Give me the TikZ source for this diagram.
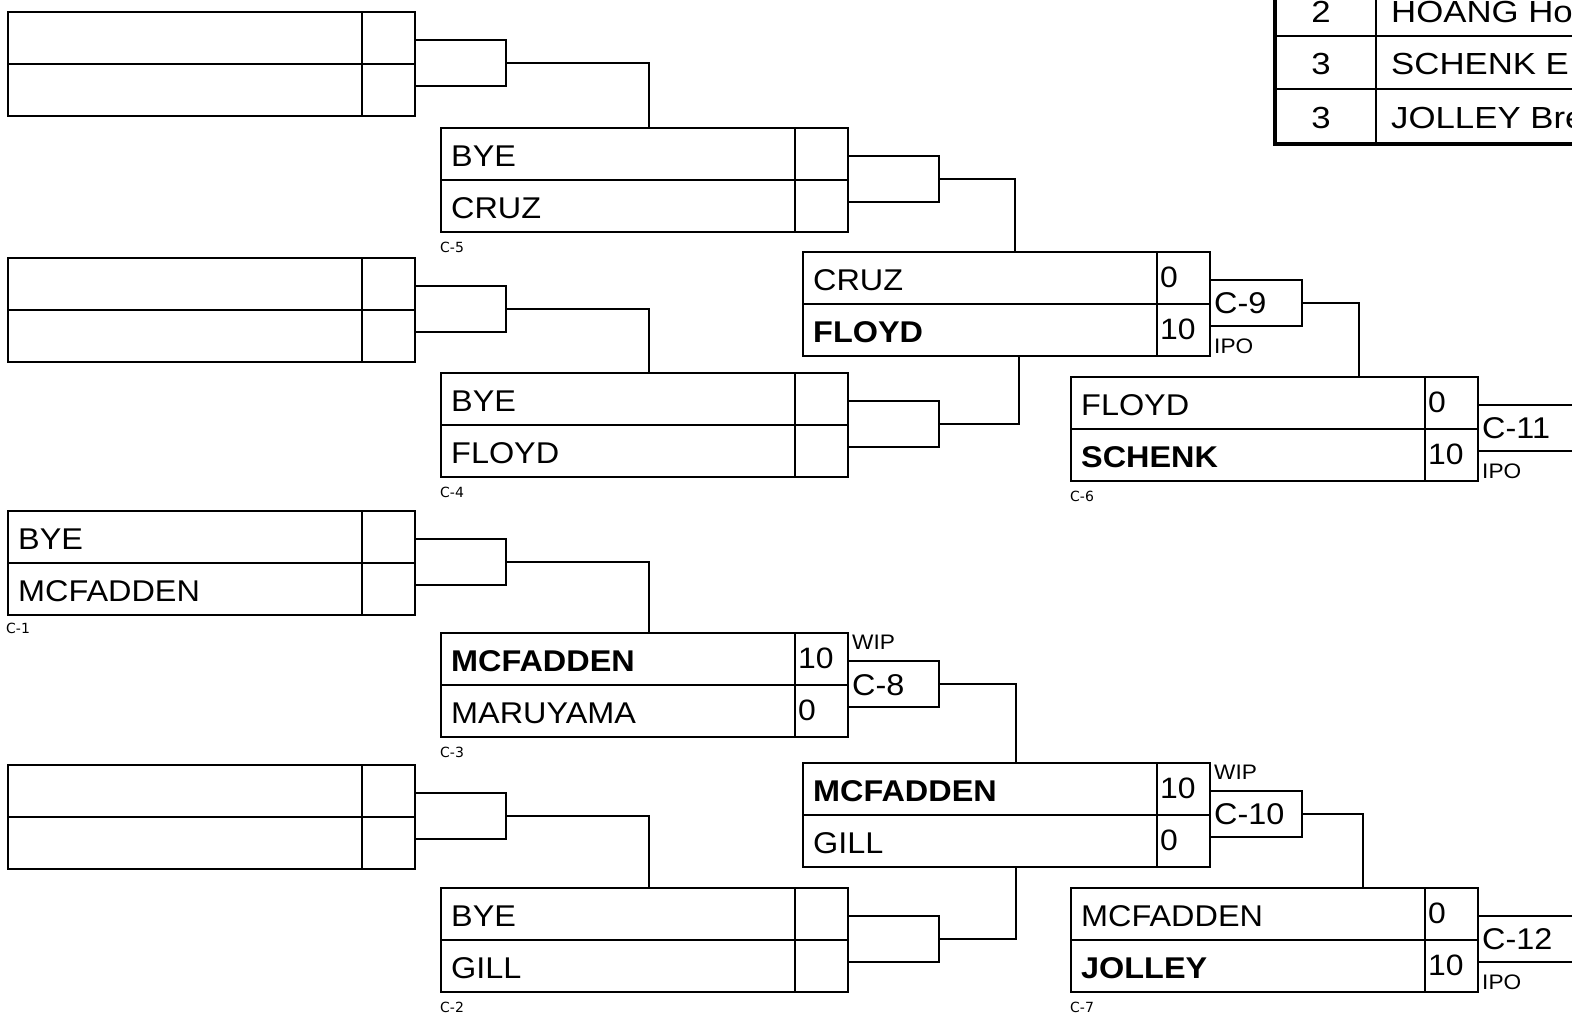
\documentclass[tikz,border=0pt]{standalone}
\usepackage{fontspec}
\setmainfont[FakeStretch=1.08]{Liberation Sans}
\newfontfamily\tabfont[FakeStretch=1.14]{Liberation Sans}
\newfontfamily\dejavu{DejaVu Sans}
\newcommand\bmatch[8]{%
 \node[matchbox] (#1) at (#2,#3) {};
 \draw[boxline] (#2,#3+52) -- (#2+407,#3+52);
 \draw[boxline] (#2+354,#3) -- (#2+354,#3+104);
 \node[nm] (#1-t) at (#2+10,#3+38) {#4};
 \node[nm] (#1-b) at (#2+10,#3+90) {#5};
 \node[sc] (#1-st) at (#2+357,#3+35) {#6};
 \node[sc] (#1-sb) at (#2+357,#3+87) {#7};
 \node[cbox,minimum width=#8pt] (#1-c) at (#2+407,#3+28) {};
}
\begin{document}
\begin{tikzpicture}[x=1pt,y=-1pt,
 matchbox/.style={draw,line width=1.6pt,minimum width=407pt,minimum height=104pt,inner sep=0pt,outer sep=0pt,anchor=north west},
 cbox/.style={draw,line width=1.5pt,minimum height=46pt,inner sep=0pt,outer sep=0pt,anchor=north west},
 boxline/.style={line width=1.6pt},
 conn/.style={line width=1.4pt},
 nm/.style={inner sep=0pt,anchor=base west,font=\fontsize{30}{36}\selectfont},
 sc/.style={inner sep=0pt,anchor=base west,font=\fontsize{29.5}{36}\selectfont},
 tb/.style={inner sep=0pt,font=\tabfont\fontsize{30.5}{38}\selectfont},
 sm/.style={inner sep=0pt,anchor=base west,font=\fontsize{21}{24}\selectfont},
 lbl/.style={inner sep=0pt,anchor=base west,font=\dejavu\fontsize{14}{16}\selectfont}]
\useasboundingbox (0,0) rectangle (1572,1017);
\clip (0,0) rectangle (1572,1017);
\fill[white] (0,0) rectangle (1572,1017);

% round 1
\bmatch{ra}{8}{12}{}{}{}{}{91}
\bmatch{rb}{8}{258}{}{}{}{}{91}
\bmatch{c1}{8}{511}{BYE}{MCFADDEN}{}{}{91}
\bmatch{rd}{8}{765}{}{}{}{}{91}
% round 2
\bmatch{c5}{441}{128}{BYE}{CRUZ}{}{}{91}
\bmatch{c4}{441}{373}{BYE}{FLOYD}{}{}{91}
\bmatch{c3}{441}{633}{\bfseries MCFADDEN}{MARUYAMA}{10}{0}{91}
\bmatch{c2}{441}{888}{BYE}{GILL}{}{}{91}
% round 3
\bmatch{m9}{803}{252}{CRUZ}{\bfseries FLOYD}{0}{10}{92}
\bmatch{m10}{803}{763}{\bfseries MCFADDEN}{GILL}{10}{0}{92}
% round 4
\bmatch{c6}{1071}{377}{FLOYD}{\bfseries SCHENK}{0}{10}{200}
\bmatch{c7}{1071}{888}{MCFADDEN}{\bfseries JOLLEY}{0}{10}{200}

% match labels
\node[lbl] (c1-l) at (6,633) {C-1};
\node[lbl] (c5-l) at (440,252) {C-5};
\node[lbl] (c4-l) at (440,497) {C-4};
\node[lbl] (c3-l) at (440,757) {C-3};
\node[lbl] (c2-l) at (440,1012) {C-2};
\node[lbl] (c6-l) at (1070,501) {C-6};
\node[lbl] (c7-l) at (1070,1012) {C-7};

% connector box labels
\node[nm] (c8-n) at (852,695) {C-8};
\node[nm] (c9-n) at (1214,313) {C-9};
\node[nm] (c10-n) at (1214,824) {C-10};
\node[nm] (c11-n) at (1482,438) {C-11};
\node[nm] (c12-n) at (1482,949) {C-12};
\node[sm] (wip1) at (852,649) {WIP};
\node[sm] (wip2) at (1214,779) {WIP};
\node[sm] (ipo1) at (1214,353) {IPO};
\node[sm] (ipo2) at (1482,478) {IPO};
\node[sm] (ipo3) at (1482,989) {IPO};

% connectors
\draw[conn] (ra-c.east) -| ([xshift=208pt]c5.north west);
\draw[conn] (rb-c.east) -| ([xshift=208pt]c4.north west);
\draw[conn] (c1-c.east) -| ([xshift=208pt]c3.north west);
\draw[conn] (rd-c.east) -| ([xshift=208pt]c2.north west);
\draw[conn] (c5-c.east) -| ([xshift=212pt]m9.north west);
\draw[conn] (c4-c.east) -| ([xshift=216pt]m9.south west);
\draw[conn] (c3-c.east) -| ([xshift=213pt]m10.north west);
\draw[conn] (c2-c.east) -| ([xshift=213pt]m10.south west);
\draw[conn] (m9-c.east) -| ([xshift=288pt]c6.north west);
\draw[conn] (m10-c.east) -| ([xshift=292pt]c7.north west);

% table
\draw[line width=2pt] (1376,-20) -- (1376,144);
\draw[line width=2.5pt] (1275,36) -- (1600,36);
\draw[line width=2.5pt] (1275,89) -- (1600,89);
\draw[line width=3.5pt] (1275,-20) -- (1275,144) -- (1600,144);
\node[tb,anchor=base] (t1n) at (1321,22) {2};
\node[tb,anchor=base west] (t1t) at (1391,22) {HOANG Ho};
\node[tb,anchor=base] (t2n) at (1321,74) {3};
\node[tb,anchor=base west] (t2t) at (1391,74) {SCHENK E};
\node[tb,anchor=base] (t3n) at (1321,128) {3};
\node[tb,anchor=base west] (t3t) at (1391,128) {JOLLEY Bre};
\end{tikzpicture}
\end{document}
